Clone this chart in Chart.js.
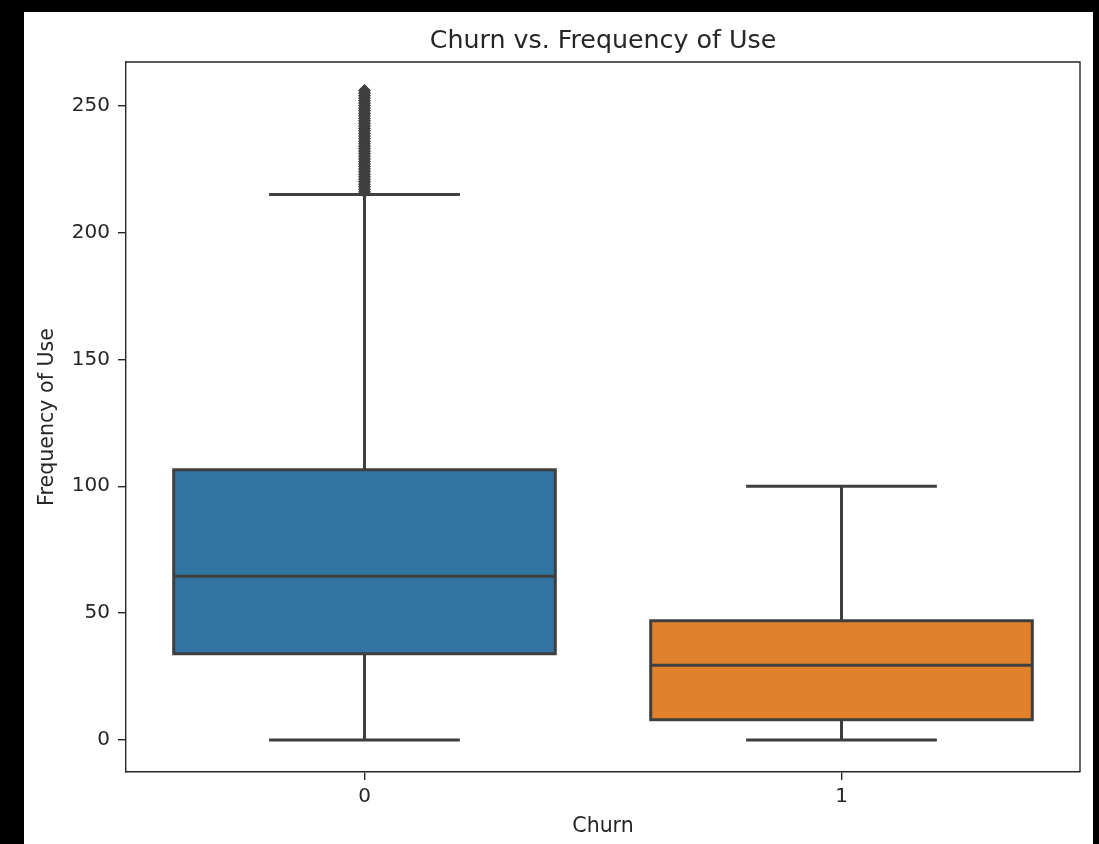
<!DOCTYPE html>
<html>
<head>
<meta charset="utf-8">
<title>Churn vs. Frequency of Use</title>
<script src="https://cdn.jsdelivr.net/npm/chart.js@4.4.1/dist/chart.umd.min.js"></script>
<style>
    html, body {
        margin: 0;
        padding: 0;
        background: #000;
        width: 1099px;
        height: 844px;
        overflow: hidden;
    }
    #wrap {
        position: absolute;
        left: 24px;
        top: 12px;
        width: 1069px;
        height: 832px;
        background: #fff;
    }
</style>
</head>
<body>
<div id="wrap">
    <canvas id="churnChart" width="1069" height="832"></canvas>
</div>
<script>
var categories = ['0', '1'];
var q1Values = [34, 8];
var medianValues = [64.5, 29.5];
var q3Values = [106.5, 47];
var whiskerLow = [0, 0];
var whiskerHigh = [215, 100];
var outliersChurn0 = [216, 217, 218, 219, 220, 221, 222, 223, 224, 225, 226, 227, 228, 229,
    230, 231, 232, 233, 234, 235, 236, 237, 238, 239, 240, 241, 242, 243, 244, 245,
    246, 247, 248, 249, 250, 251, 252, 253, 254, 255, 256];
var yTicks = [0, 50, 100, 150, 200, 250];

var boxColors = ['#3274a1', '#e1812c'];
var edgeColor = '#3f3f3f';
var axisColor = '#262626';
var fontFamily = "'DejaVu Sans', sans-serif";

function buildBoxes() {
    var boxes = [];
    for (var i = 0; i < categories.length; i++) {
        boxes.push([q1Values[i], q3Values[i]]);
    }
    return boxes;
}

function buildOutliers() {
    var points = [];
    for (var i = 0; i < outliersChurn0.length; i++) {
        points.push({ x: categories[0], y: outliersChurn0[i] });
    }
    return points;
}

// box edges, whiskers, caps and median lines drawn from the scales
var boxPlotLines = {
    id: 'boxPlotLines',
    afterDatasetsDraw: function(chart) {
        var ctx = chart.ctx;
        var xScale = chart.scales.x;
        var yScale = chart.scales.y;
        var bars = chart.getDatasetMeta(0).data;
        var step = xScale.getPixelForValue(1) - xScale.getPixelForValue(0);
        var capHalf = step * 0.2;

        ctx.save();
        ctx.strokeStyle = edgeColor;
        ctx.lineWidth = 3;
        ctx.lineCap = 'butt';
        for (var i = 0; i < categories.length; i++) {
            var cx = xScale.getPixelForValue(i);
            var half = bars[i].width / 2;
            var yTop = yScale.getPixelForValue(q3Values[i]);
            var yBottom = yScale.getPixelForValue(q1Values[i]);

            ctx.strokeRect(cx - half, yTop, half * 2, yBottom - yTop);

            ctx.beginPath();
            ctx.moveTo(cx, yTop);
            ctx.lineTo(cx, yScale.getPixelForValue(whiskerHigh[i]));
            ctx.moveTo(cx, yBottom);
            ctx.lineTo(cx, yScale.getPixelForValue(whiskerLow[i]));
            ctx.stroke();

            ctx.beginPath();
            ctx.moveTo(cx - capHalf, yScale.getPixelForValue(whiskerHigh[i]));
            ctx.lineTo(cx + capHalf, yScale.getPixelForValue(whiskerHigh[i]));
            ctx.moveTo(cx - capHalf, yScale.getPixelForValue(whiskerLow[i]));
            ctx.lineTo(cx + capHalf, yScale.getPixelForValue(whiskerLow[i]));
            ctx.stroke();

            ctx.beginPath();
            ctx.moveTo(cx - half, yScale.getPixelForValue(medianValues[i]));
            ctx.lineTo(cx + half, yScale.getPixelForValue(medianValues[i]));
            ctx.stroke();
        }
        ctx.restore();
    }
};

// top and right spines, like a matplotlib axes frame
var frameLines = {
    id: 'frameLines',
    afterDraw: function(chart) {
        var a = chart.chartArea;
        var ctx = chart.ctx;
        ctx.save();
        ctx.strokeStyle = axisColor;
        ctx.lineWidth = 1.4;
        ctx.beginPath();
        ctx.moveTo(a.left, a.top);
        ctx.lineTo(a.right, a.top);
        ctx.lineTo(a.right, a.bottom);
        ctx.stroke();
        ctx.restore();
    }
};

var ctx = document.getElementById('churnChart').getContext('2d');
var churnChart = new Chart(ctx, {
    type: 'bar',
    data: {
        labels: categories,
        datasets: [{
            label: 'box',
            data: buildBoxes(),
            backgroundColor: boxColors,
            borderWidth: 0,
            barPercentage: 0.8,
            categoryPercentage: 1.0,
            order: 2
        }, {
            type: 'line',
            label: 'outliers',
            data: buildOutliers(),
            showLine: false,
            pointStyle: 'rectRot',
            pointRadius: 6,
            pointBackgroundColor: edgeColor,
            pointBorderColor: edgeColor,
            pointBorderWidth: 1,
            order: 1
        }]
    },
    options: {
        responsive: false,
        animation: false,
        layout: {
            padding: { left: 0, right: 13, top: 0, bottom: 0 }
        },
        plugins: {
            legend: { display: false },
            tooltip: { enabled: false },
            title: {
                display: true,
                text: 'Churn vs. Frequency of Use',
                fullSize: false,
                color: axisColor,
                font: { family: fontFamily, size: 25.3, weight: 'normal' },
                padding: { top: 14, bottom: 5.6 }
            }
        },
        scales: {
            x: {
                type: 'category',
                offset: true,
                grid: {
                    offset: false,
                    drawOnChartArea: false,
                    drawTicks: true,
                    tickLength: 8,
                    color: axisColor,
                    lineWidth: 1.4
                },
                border: { display: true, color: axisColor, width: 1.4 },
                ticks: {
                    color: axisColor,
                    padding: 5,
                    font: { family: fontFamily, size: 20 }
                },
                title: {
                    display: true,
                    text: 'Churn',
                    color: axisColor,
                    font: { family: fontFamily, size: 20.5 },
                    padding: { top: 0, bottom: 5 }
                },
                afterFit: function(scale) {
                    scale.height = 72;
                }
            },
            y: {
                min: -12.6,
                max: 267.2,
                grid: {
                    drawOnChartArea: false,
                    drawTicks: true,
                    tickLength: 8,
                    color: axisColor,
                    lineWidth: 1.4
                },
                border: { display: true, color: axisColor, width: 1.4 },
                afterBuildTicks: function(scale) {
                    scale.ticks = yTicks.map(function(v) { return { value: v }; });
                },
                ticks: {
                    color: axisColor,
                    padding: 8,
                    font: { family: fontFamily, size: 20 }
                },
                title: {
                    display: true,
                    text: 'Frequency of Use',
                    color: axisColor,
                    font: { family: fontFamily, size: 20.6 },
                    padding: { top: 11, bottom: 0 }
                },
                afterFit: function(scale) {
                    scale.width = 102;
                }
            }
        }
    },
    plugins: [boxPlotLines, frameLines]
});
</script>
</body>
</html>
